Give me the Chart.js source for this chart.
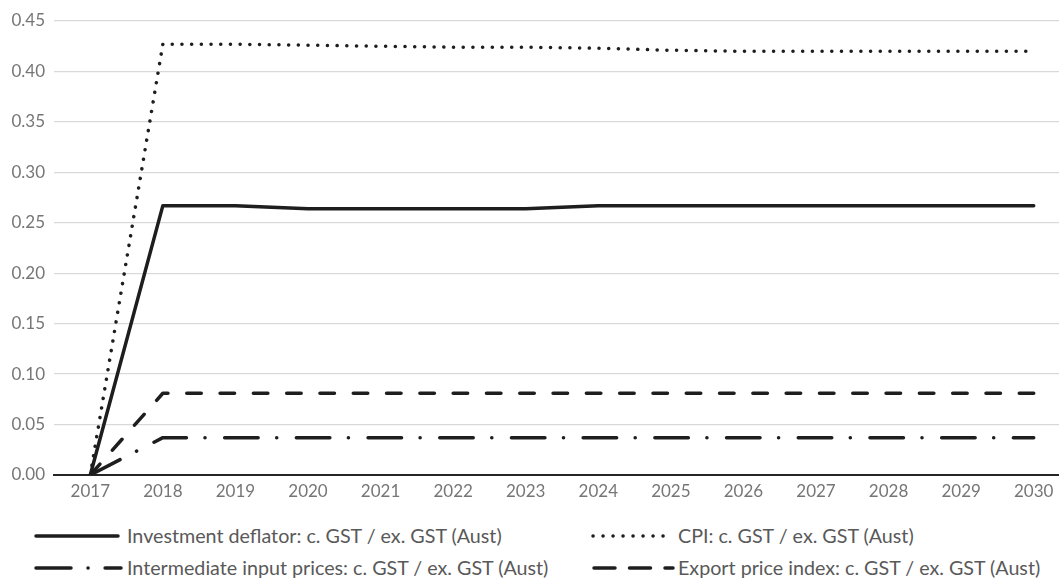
<!DOCTYPE html>
<html>
<head>
<meta charset="utf-8">
<script src="https://cdn.jsdelivr.net/npm/chart.js@4/dist/chart.umd.min.js"></script>
<style>
  html, body { margin: 0; padding: 0; background: #fff; }
  body { width: 1059px; height: 584px; overflow: hidden; position: relative; }
  #wrap { position: absolute; left: 0; top: 0; width: 1070px; height: 515px; }
  .leg { position: absolute; font-family: Lato, sans-serif; font-size: 19.7px; color: #595959; white-space: nowrap; line-height: 20px; }
  .leg svg { position: absolute; }
  .leg span { position: absolute; display: inline-block; }
</style>
</head>
<body>
<div id="wrap"><canvas id="chart"></canvas></div>
<div id="legend"></div>
<script>
// --- Data ---
const years = ['2017', '2018', '2019', '2020', '2021', '2022', '2023', '2024', '2025', '2026', '2027', '2028', '2029', '2030'];
const investmentDeflator = [0, 0.267, 0.267, 0.264, 0.264, 0.264, 0.264, 0.267, 0.267, 0.267, 0.267, 0.267, 0.267, 0.267];
const cpi = [0, 0.427, 0.427, 0.426, 0.425, 0.424, 0.424, 0.423, 0.421, 0.420, 0.420, 0.420, 0.420, 0.420];
const intermediateInput = [0, 0.037, 0.037, 0.037, 0.037, 0.037, 0.037, 0.037, 0.037, 0.037, 0.037, 0.037, 0.037, 0.037];
const exportPrice = [0, 0.081, 0.081, 0.081, 0.081, 0.081, 0.081, 0.081, 0.081, 0.081, 0.081, 0.081, 0.081, 0.081];
const yTicks = [0, 0.05, 0.10, 0.15, 0.20, 0.25, 0.30, 0.35, 0.40, 0.45];

const LINE = '#1e1e1e';
const series = [
  { label: 'Investment deflator: c. GST / ex. GST (Aust)', data: investmentDeflator, dash: [] },
  { label: 'CPI: c. GST / ex. GST (Aust)', data: cpi, dash: [0.1, 9.6] },
  { label: 'Intermediate input prices: c. GST / ex. GST (Aust)', data: intermediateInput, dash: [33.5, 18.5, 0.1, 19.6] },
  { label: 'Export price index: c. GST / ex. GST (Aust)', data: exportPrice, dash: [14.5, 18.8] }
];

const tickFont = { family: 'Lato, sans-serif', size: 17 };

new Chart(document.getElementById('chart'), {
  type: 'line',
  data: {
    labels: years,
    datasets: series.map(s => ({
      label: s.label,
      data: s.data,
      borderColor: LINE,
      borderWidth: 3.5,
      borderDash: s.dash,
      borderCapStyle: 'round',
      borderJoinStyle: 'round',
      pointRadius: 0,
      tension: 0,
      fill: false
    }))
  },
  options: {
    responsive: true,
    maintainAspectRatio: false,
    animation: false,
    layout: { padding: { top: 21, left: 0, right: 0, bottom: 0 } },
    plugins: { legend: { display: false }, tooltip: { enabled: false } },
    scales: {
      x: {
        offset: true,
        grid: { display: false, drawTicks: false },
        border: { display: true, color: '#262626', width: 2 },
        ticks: { color: '#767676', font: tickFont, padding: 6, maxRotation: 0, autoSkip: false },
        afterFit: (sc) => { sc.height = 40; }
      },
      y: {
        min: 0,
        max: 0.45,
        afterBuildTicks: (sc) => { sc.ticks = yTicks.map(v => ({ value: v })); },
        grid: { color: '#d9d9d9', lineWidth: 1.3, drawTicks: false },
        border: { display: false },
        ticks: { color: '#767676', font: tickFont, padding: 9, callback: (v) => Number(v).toFixed(2) },
        afterFit: (sc) => { sc.width = 54; }
      }
    }
  }
});

// --- Legend (2 x 2) ---
const legendPos = [
  { x0: 36, x1: 118, tx: 127, y: 536 },
  { x0: 593, x1: 672, tx: 678, y: 536 },
  { x0: 36, x1: 121, tx: 127, y: 568 },
  { x0: 594, x1: 673, tx: 678, y: 568 }
];
const legendDash = [[], [0.1, 9.9], [35, 17, 0.1, 17], [21, 14.5]];
const legendEl = document.getElementById('legend');
series.forEach((s, i) => {
  const p = legendPos[i];
  const div = document.createElement('div');
  div.className = 'leg';
  div.style.left = '0px';
  div.style.top = (p.y - 10) + 'px';
  div.style.width = '1059px';
  div.style.height = '20px';
  const svg = document.createElementNS('http://www.w3.org/2000/svg', 'svg');
  svg.setAttribute('width', '1059');
  svg.setAttribute('height', '20');
  svg.style.left = '0px';
  svg.style.top = '0px';
  const ln = document.createElementNS('http://www.w3.org/2000/svg', 'line');
  ln.setAttribute('x1', p.x0);
  ln.setAttribute('x2', p.x1);
  ln.setAttribute('y1', 10);
  ln.setAttribute('y2', 10);
  ln.setAttribute('stroke', LINE);
  ln.setAttribute('stroke-width', 3.5);
  ln.setAttribute('stroke-linecap', 'round');
  if (legendDash[i].length) ln.setAttribute('stroke-dasharray', legendDash[i].join(' '));
  svg.appendChild(ln);
  div.appendChild(svg);
  const sp = document.createElement('span');
  sp.textContent = s.label;
  sp.style.left = p.tx + 'px';
  sp.style.top = '0px';
  div.appendChild(sp);
  legendEl.appendChild(div);
});
</script>
</body>
</html>
